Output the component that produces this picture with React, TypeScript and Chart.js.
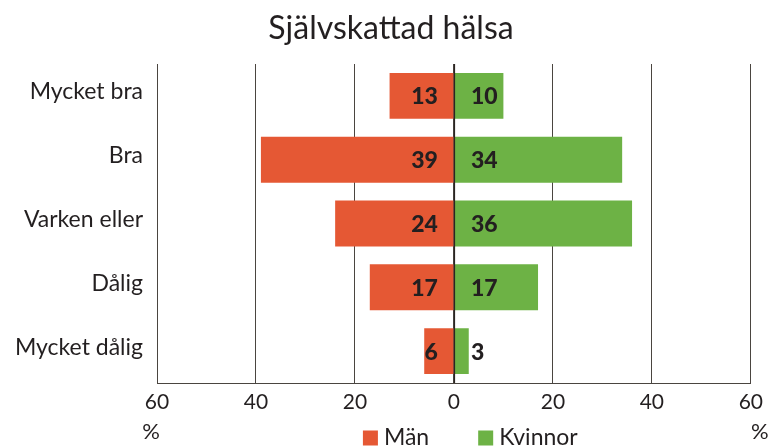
import { useEffect, useRef } from "react";
import { Chart, registerables } from "chart.js";

Chart.register(...registerables);

const TITLE = "Självskattad hälsa";
const categories = ["Mycket bra", "Bra", "Varken eller", "Dålig", "Mycket dålig"];
const seriesLabels = ["Män", "Kvinnor"];
const menValues = [13, 39, 24, 17, 6];
const womenValues = [10, 34, 36, 17, 3];
const axisMin = -60;
const axisMax = 60;
const axisStep = 20;
const unitLabel = "%";

const FONT = "Lato, 'Open Sans', sans-serif";
const TEXT = "#231F20";
const GRID = "#4a4540";
const RED = "#E55834";
const GREEN = "#6DB245";

const overlayPlugin = {
  id: "overlay",
  afterDatasetsDraw(chart: any) {
    const ctx = chart.ctx;
    const xs = chart.scales.x;
    const area = chart.chartArea;
    const x0 = xs.getPixelForValue(0);
    ctx.save();
    // zero line over bars
    ctx.strokeStyle = "#2a2522";
    ctx.lineWidth = 1.2;
    ctx.beginPath();
    ctx.moveTo(Math.round(x0) + 0.5, area.top);
    ctx.lineTo(Math.round(x0) + 0.5, area.bottom);
    ctx.stroke();
    // value labels
    ctx.font = `900 23px ${FONT}`;
    ctx.fillStyle = TEXT;
    ctx.textBaseline = "middle";
    chart.data.datasets.forEach((ds: any, di: number) => {
      const meta = chart.getDatasetMeta(di);
      meta.data.forEach((bar: any, i: number) => {
        const v = Math.abs(ds.data[i]);
        if (di === 0) {
          ctx.textAlign = "right";
          ctx.fillText(String(v), x0 - 16, bar.y + 1);
        } else {
          ctx.textAlign = "left";
          ctx.fillText(String(v), x0 + 17, bar.y + 1);
        }
      });
    });
    ctx.restore();
  },
  afterDraw(chart: any) {
    const ctx = chart.ctx;
    const xs = chart.scales.x;
    const x0 = xs.getPixelForValue(0);
    ctx.save();
    // title (drawn here so it can sit slightly right of the canvas centre)
    ctx.fillStyle = TEXT;
    ctx.font = `32px ${FONT}`;
    ctx.textAlign = "center";
    ctx.textBaseline = "middle";
    ctx.fillText(TITLE, 391, 29);

    ctx.font = `22px ${FONT}`;
    ctx.fillText(unitLabel, xs.getPixelForValue(axisMin) - 6, 432);
    ctx.fillText(unitLabel, xs.getPixelForValue(axisMax) + 9, 432);
    // legend
    ctx.font = `23px ${FONT}`;
    let x = x0 - 91;
    const y = 438;
    ctx.textAlign = "left";
    chart.data.datasets.forEach((ds: any) => {
      ctx.fillStyle = ds.backgroundColor;
      ctx.fillRect(x, y - 7.5, 15, 15);
      x += 21;
      ctx.fillStyle = TEXT;
      ctx.fillText(ds.label, x, y);
      x += ctx.measureText(ds.label).width + 49;
    });
    ctx.restore();
  },
};

export default function App() {
  const ref = useRef<HTMLCanvasElement>(null);
  useEffect(() => {
    if (!ref.current) return;
    Chart.defaults.font.family = FONT;
    const chart = new Chart(ref.current, {
      type: "bar",
      data: {
        labels: categories,
        datasets: [
          {
            label: seriesLabels[0],
            data: menValues.map((v) => -v),
            backgroundColor: RED,
            borderWidth: 0,
            barPercentage: 0.72,
            categoryPercentage: 1,
          },
          {
            label: seriesLabels[1],
            data: womenValues,
            backgroundColor: GREEN,
            borderWidth: 0,
            barPercentage: 0.72,
            categoryPercentage: 1,
          },
        ],
      },
      options: {
        indexAxis: "y",
        responsive: false,
        animation: false,
        devicePixelRatio: 1,
        layout: { padding: { left: 0, right: 18, top: 0, bottom: 0 } },
        plugins: {
          legend: { display: false },
          tooltip: { enabled: false },
          title: {
            display: true,
            text: TITLE,
            color: "rgba(0,0,0,0)",
            font: { size: 30, weight: "normal", family: FONT },
            padding: { top: 10, bottom: 18 },
          },
        },
        scales: {
          x: {
            stacked: true,
            min: axisMin,
            max: axisMax,
            ticks: {
              stepSize: axisStep,
              callback: (v: any) => String(Math.abs(Number(v))),
              color: TEXT,
              font: { size: 21, family: FONT },
              padding: 7,
              maxRotation: 0,
            },
            grid: { color: GRID, drawTicks: false, lineWidth: 1 },
            border: { display: true, color: GRID },
            afterFit: (s: any) => {
              s.height = 65;
            },
          },
          y: {
            stacked: true,
            grid: { display: false },
            border: { display: false },
            ticks: {
              color: TEXT,
              font: { size: 23, family: FONT },
              padding: 6,
              labelOffset: -4,
            },
            afterFit: (s: any) => {
              s.width = 157;
            },
          },
        },
      },
      plugins: [overlayPlugin],
    } as any);
    return () => chart.destroy();
  }, []);
  return (
    <div style={{ position: "absolute", left: 0, top: 0, width: 770, height: 448 }}>
      <canvas ref={ref} width={770} height={448} />
    </div>
  );
}
